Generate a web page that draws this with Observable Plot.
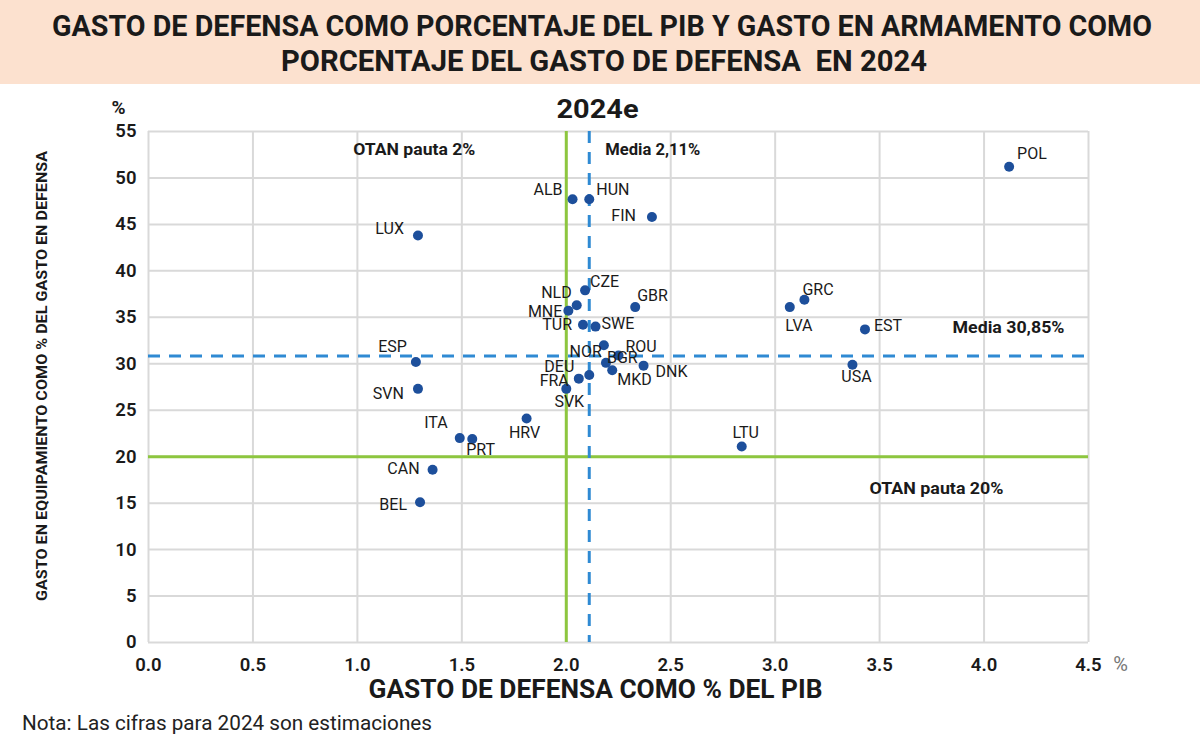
<!DOCTYPE html>
<html>
<head>
<meta charset="utf-8">
<script src="https://cdn.jsdelivr.net/npm/d3@7"></script>
<script src="https://cdn.jsdelivr.net/npm/@observablehq/plot@0.6"></script>
<style>
  html, body { margin: 0; padding: 0; background: #fff; }
  #page { position: relative; width: 1200px; height: 750px; overflow: hidden; background: #fff; }
  #head { position: absolute; left: 0; top: 0; }
  #chart { position: absolute; left: 0; top: 84px; }
  #foot { position: absolute; left: 0; top: 704px; }
  svg text { font-family: Roboto, "Noto Sans", sans-serif; }
</style>
</head>
<body>
<div id="page">
  <svg id="head" width="1200" height="84">
    <rect x="0" y="0" width="1200" height="84" fill="#fce1cf"></rect>
    <text x="602" y="36" text-anchor="middle" font-size="29" font-weight="700" fill="#1a1a1a" textLength="1100" lengthAdjust="spacingAndGlyphs">GASTO DE DEFENSA COMO PORCENTAJE DEL PIB Y GASTO EN ARMAMENTO COMO</text>
    <text x="604" y="71" text-anchor="middle" font-size="29" font-weight="700" fill="#1a1a1a" textLength="646" lengthAdjust="spacingAndGlyphs">PORCENTAJE DEL GASTO DE DEFENSA&#160; EN 2024</text>
  </svg>
  <div id="chart"></div>
  <svg id="foot" width="1200" height="46">
    <text x="22" y="26" font-size="20" font-weight="400" fill="#222" textLength="410" lengthAdjust="spacingAndGlyphs">Nota: Las cifras para 2024 son estimaciones</text>
  </svg>
</div>
<script>
// ---- Data ----
const countries = ["POL","ALB","HUN","FIN","LUX","CZE","NLD","MNE","GBR","TUR","SWE","NOR","ROU","BGR","MKD","DNK","DEU","FRA","SVK","ESP","SVN","HRV","ITA","PRT","CAN","BEL","LTU","GRC","LVA","EST","USA"];
const defensePctGDP = [4.12,2.03,2.11,2.41,1.29,2.09,2.05,2.01,2.33,2.08,2.14,2.18,2.25,2.19,2.22,2.37,2.11,2.06,2.00,1.28,1.29,1.81,1.49,1.55,1.36,1.30,2.84,3.14,3.07,3.43,3.37];
const equipmentPct = [51.2,47.7,47.7,45.8,43.8,37.9,36.3,35.7,36.1,34.2,34.0,32.0,30.9,30.1,29.3,29.8,28.8,28.4,27.3,30.2,27.3,24.1,22.0,21.9,18.6,15.1,21.1,36.9,36.1,33.7,29.9];
const xTicks = [0,0.5,1,1.5,2,2.5,3,3.5,4,4.5];
const yTicks = [0,5,10,15,20,25,30,35,40,45,50,55];
const natoGDPGuideline = 2;
const natoEquipGuideline = 20;
const meanGDP = 2.11;
const meanEquip = 30.85;

// ---- Label placement (style): [dx, dy, anchor] ----
const labelPos = {
  POL:[8,-13,"start"], ALB:[-10,-9,"end"], HUN:[7,-9,"start"], FIN:[-16,-1,"end"], LUX:[-14,-7,"end"],
  CZE:[5,-8,"start"], NLD:[-5,-12,"end"], MNE:[-6,1,"end"], GBR:[2,-11,"start"], TUR:[-11,0,"end"],
  SWE:[6,-3,"start"], NOR:[-2,7,"end"], ROU:[7,-9,"start"], BGR:[1,-5,"start"], MKD:[5,10,"start"],
  DNK:[12,6,"start"], DEU:[-15,-8,"end"], FRA:[-10,2,"end"], SVK:[3,13,"middle"], ESP:[-9,-15,"end"],
  SVN:[-14,5,"end"], HRV:[-2,14,"middle"], ITA:[-12,-15,"end"], PRT:[-6,11,"start"], CAN:[-13,-1,"end"],
  BEL:[-13,3,"end"], LTU:[4,-14,"middle"], GRC:[-2,-10,"start"], LVA:[9,19,"middle"], EST:[9,-4,"start"],
  USA:[4,12,"middle"]
};

const rows = countries.map((c, i) => ({country: c, x: defensePctGDP[i], y: equipmentPct[i]}));
const anchors = ["start","middle","end"];

const green = "#8dc63f";
const blue = "#2f8ad3";
const dot = "#1d4f9b";
const labelFont = "Roboto, 'Noto Sans', sans-serif";
const boldFont = "Inter, 'Noto Sans', sans-serif";

function labelsFor(a) {
  const data = rows.filter(d => labelPos[d.country][2] === a);
  return Plot.text(data, {
    x: "x", y: "y", text: "country", textAnchor: a,
    fontSize: 16, fill: "#1a1a1a", fontFamily: labelFont, fontWeight: 400,
    render(index, scales, values, dimensions, context, next) {
      const g = next(index, scales, values, dimensions, context);
      d3.select(g).selectAll("text").each(function(_, j) {
        const d = data[index[j]];
        const p = labelPos[d.country];
        const t = d3.select(this);
        const tr = t.attr("transform") || "";
        t.attr("transform", tr + ` translate(${p[0]},${p[1]})`);
      });
      return g;
    }
  });
}
function fitText(len) {
  return function(index, scales, values, dimensions, context, next) {
    const g = next(index, scales, values, dimensions, context);
    d3.select(g).selectAll("text").attr("textLength", len).attr("lengthAdjust", "spacingAndGlyphs");
    return g;
  };
}
const annot = {fontSize: 16, fontWeight: 700, fill: "#1a1a1a", fontFamily: labelFont};

const chart = Plot.plot({
  width: 1200,
  height: 620,
  marginLeft: 148,
  marginRight: 112,
  marginTop: 47,
  marginBottom: 62,
  style: {fontFamily: boldFont, color: "#1a1a1a", background: "transparent"},
  x: {domain: [0, 4.5], ticks: xTicks},
  y: {domain: [0, 55], ticks: yTicks},
  marks: [
    Plot.gridX(xTicks, {stroke: "#d9d9d9", strokeOpacity: 1, strokeWidth: 2}),
    Plot.gridY(yTicks, {stroke: "#d9d9d9", strokeOpacity: 1, strokeWidth: 2}),
    Plot.axisX(xTicks, {tickSize: 0, tickPadding: 15, tickFormat: d3.format(".1f"), fontSize: 18.5, fontWeight: 600, label: null}),
    Plot.axisY(yTicks, {tickSize: 0, tickPadding: 12, fontSize: 18.5, fontWeight: 600, label: null}),
    Plot.ruleX([natoGDPGuideline], {stroke: green, strokeWidth: 3}),
    Plot.ruleY([natoEquipGuideline], {stroke: green, strokeWidth: 3}),
    Plot.ruleX([meanGDP], {stroke: blue, strokeWidth: 3, strokeDasharray: "12,9"}),
    Plot.ruleY([meanEquip], {stroke: blue, strokeWidth: 3, strokeDasharray: "12,9"}),
    Plot.text(["OTAN pauta 2%"], {x: natoGDPGuideline, frameAnchor: "top", dy: 12, dx: -91, textAnchor: "end", ...annot, render: fitText(122)}),
    Plot.text(["Media 2,11%"], {x: meanGDP, frameAnchor: "top", dy: 12, dx: 16, textAnchor: "start", ...annot, render: fitText(95)}),
    Plot.text(["Media 30,85%"], {y: meanEquip, frameAnchor: "right", dy: -28, dx: -24, textAnchor: "end", ...annot, render: fitText(112)}),
    Plot.text(["OTAN pauta 20%"], {y: natoEquipGuideline, frameAnchor: "right", dy: 32, dx: -85, textAnchor: "end", ...annot, render: fitText(134)}),
    Plot.dot(rows, {x: "x", y: "y", r: 5, fill: dot, stroke: "none"}),
    ...anchors.map(labelsFor),
    Plot.text(["2024e"], {frameAnchor: "top", dx: -21, dy: -31, fontSize: 25, fontWeight: 700, fontFamily: labelFont, fill: "#1a1a1a", render: fitText(82)}),
    Plot.text(["%"], {frameAnchor: "top-left", textAnchor: "middle", lineAnchor: "middle", dx: -30, dy: -24, fontSize: 19, fontWeight: 700, fill: "#1a1a1a"}),
    Plot.text(["%"], {frameAnchor: "bottom-right", textAnchor: "middle", lineAnchor: "middle", dx: 32, dy: 22, fontSize: 20, fontWeight: 400, fill: "#777"}),
    Plot.text(["GASTO DE DEFENSA COMO % DEL PIB"], {frameAnchor: "bottom", dx: -23, dy: 55, fontSize: 26, fontWeight: 700, fontFamily: labelFont, fill: "#1a1a1a", render: fitText(454)}),
    Plot.text(["GASTO EN EQUIPAMIENTO COMO % DEL GASTO EN DEFENSA"], {frameAnchor: "left", textAnchor: "middle", lineAnchor: "middle", rotate: -90, dx: -106, dy: -11, fontSize: 14, fontWeight: 700, fontFamily: labelFont, fill: "#1a1a1a", render: fitText(450)})
  ]
});
document.getElementById("chart").appendChild(chart);
</script>
</body>
</html>
